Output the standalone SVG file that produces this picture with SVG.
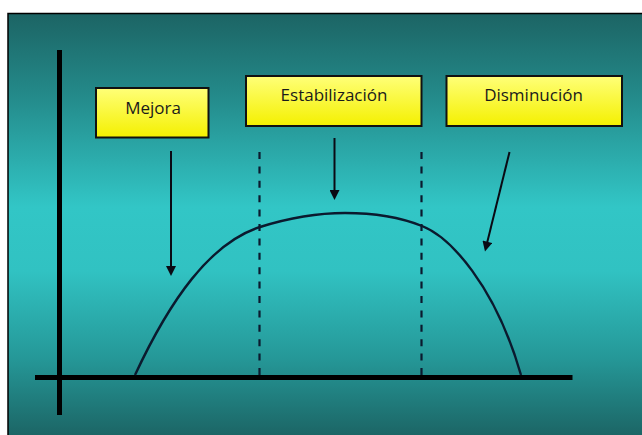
<svg xmlns="http://www.w3.org/2000/svg" width="642" height="435" viewBox="0 0 642 435">
  <defs>
    <linearGradient id="bg" x1="0" y1="0" x2="0" y2="1">
      <stop offset="0" stop-color="#1c6464"/>
      <stop offset="0.2" stop-color="#248c8c"/>
      <stop offset="0.45" stop-color="#32c6c6"/>
      <stop offset="0.6" stop-color="#31c2c2"/>
      <stop offset="0.8" stop-color="#259898"/>
      <stop offset="1" stop-color="#1b6060"/>
    </linearGradient>
    <linearGradient id="yel" x1="0" y1="0" x2="0" y2="1">
      <stop offset="0" stop-color="#ffff78"/>
      <stop offset="1" stop-color="#f4f000"/>
    </linearGradient>
    <marker id="ah" viewBox="0 0 10 10" refX="7" refY="5" markerWidth="11" markerHeight="10" orient="auto" markerUnits="userSpaceOnUse">
      <path d="M0,0 L10,5 L0,10 z" fill="#0a0a14"/>
    </marker>
    <style>
      .box { fill: url(#yel); stroke: #111; stroke-width: 2; }
      .lbl { font-family: "Open Sans", "Noto Sans", "Liberation Sans", sans-serif; font-size: 17px; fill: #1a1a1a; text-anchor: middle; }
      .axis { stroke: #000; stroke-width: 5; fill: none; }
      .dash { stroke: #0b1a2e; stroke-width: 2.2; stroke-dasharray: 7 7.4; fill: none; }
      .arrow { stroke: #0a0a14; stroke-width: 2; fill: none; marker-end: url(#ah); }
      .curve { stroke: #0b1a2e; stroke-width: 2.4; fill: none; }
    </style>
  </defs>
  <rect x="0" y="0" width="642" height="435" fill="#ffffff"/>
  <rect x="8" y="13.5" width="640" height="430" fill="url(#bg)" stroke="#000" stroke-width="1.5"/>

  <g id="axes">
    <line class="axis" x1="59.5" y1="50" x2="59.5" y2="415"/>
    <line class="axis" x1="35" y1="377.5" x2="572.5" y2="377.5"/>
  </g>

  <g id="dividers">
    <line class="dash" x1="259.5" y1="152" x2="259.5" y2="375"/>
    <line class="dash" x1="421.5" y1="152" x2="421.5" y2="375"/>
  </g>

  <g id="curve">
    <path class="curve" d="M135,375 C170,300 210,243 260,227 C295,216 320,213 345,213 C375,213 402,218 422,226 C450,237 495,285 521,375"/>
  </g>

  <g id="node-mejora">
    <rect class="box" x="96" y="88" width="112.5" height="49.5"/>
    <text class="lbl" x="153" y="114">Mejora</text>
  </g>
  <g id="node-estabilizacion">
    <rect class="box" x="246" y="76" width="175.5" height="50"/>
    <text class="lbl" x="334" y="101">Estabilización</text>
  </g>
  <g id="node-disminucion">
    <rect class="box" x="446.5" y="76" width="175.5" height="50"/>
    <text class="lbl" x="533.5" y="101">Disminución</text>
  </g>

  <g id="connectors">
    <line class="arrow" x1="171" y1="151" x2="171" y2="273"/>
    <line class="arrow" x1="334.5" y1="138" x2="334.5" y2="197"/>
    <line class="arrow" x1="509.5" y1="152" x2="485.7" y2="248.6"/>
  </g>
</svg>
